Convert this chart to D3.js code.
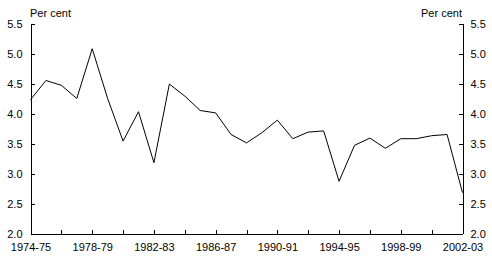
<!DOCTYPE html>
<html>
<head>
<meta charset="utf-8">
<script src="https://cdn.jsdelivr.net/npm/d3@7"></script>
<style>
  body { margin: 0; background: #fff; }
  svg text { font-family: "Liberation Sans", Arial, sans-serif; font-size: 11px; fill: #000; }
</style>
</head>
<body>
<script>
'use strict';

const years = ['1974-75','1975-76','1976-77','1977-78','1978-79','1979-80','1980-81','1981-82',
  '1982-83','1983-84','1984-85','1985-86','1986-87','1987-88','1988-89','1989-90','1990-91',
  '1991-92','1992-93','1993-94','1994-95','1995-96','1996-97','1997-98','1998-99','1999-00',
  '2000-01','2001-02','2002-03'];
const values = [4.23, 4.55, 4.47, 4.25, 5.08, 4.25, 3.54, 4.03, 3.18, 4.49, 4.29, 4.05, 4.01,
  3.65, 3.51, 3.68, 3.89, 3.58, 3.69, 3.71, 2.87, 3.47, 3.59, 3.42, 3.58, 3.58, 3.63, 3.65, 2.68];
const yTicks = [2.0, 2.5, 3.0, 3.5, 4.0, 4.5, 5.0, 5.5];
const unitLabel = 'Per cent';

(function() {
  const width = 492, height = 265;
  const left = 30.5, right = 462.5, top = 23.5, bottom = 233.5;

  const svg = d3.select('body').append('svg')
    .attr('width', width)
    .attr('height', height);

  const x = d3.scalePoint().domain(years).range([left, right]);
  const y = d3.scaleLinear().domain([2, 5.5]).range([bottom, top]);

  // x axis: ticks every two years, labels every four
  const xAxis = d3.axisBottom(x)
    .tickValues(years.filter((d, i) => i % 2 === 0))
    .tickFormat((d) => years.indexOf(d) % 4 === 0 ? d : '')
    .tickSizeInner(-4)
    .tickSizeOuter(0)
    .tickPadding(10);
  svg.append('g')
    .attr('transform', 'translate(0,' + bottom + ')')
    .call(xAxis);

  const yLeft = d3.axisLeft(y)
    .tickValues(yTicks)
    .tickFormat(d3.format('.1f'))
    .tickSizeInner(-4)
    .tickSizeOuter(0)
    .tickPadding(8);
  svg.append('g')
    .attr('transform', 'translate(' + left + ',0)')
    .call(yLeft);

  const yRight = d3.axisRight(y)
    .tickValues(yTicks)
    .tickFormat(d3.format('.1f'))
    .tickSizeInner(-4)
    .tickSizeOuter(0)
    .tickPadding(8);
  svg.append('g')
    .attr('transform', 'translate(' + right + ',0)')
    .call(yRight);

  svg.selectAll('.domain, .tick line')
    .attr('stroke', '#000')
    .attr('shape-rendering', 'crispEdges');
  svg.selectAll('.tick text').attr('font-size', '11px').attr('font-family', null);

  const line = d3.line()
    .x((d, i) => x(years[i]))
    .y((d) => y(d));

  svg.append('path')
    .datum(values)
    .attr('fill', 'none')
    .attr('stroke', '#000')
    .attr('stroke-width', 1)
    .attr('d', line);

  svg.append('text')
    .attr('x', 30)
    .attr('y', 17)
    .text(unitLabel);

  svg.append('text')
    .attr('x', 462)
    .attr('y', 17)
    .attr('text-anchor', 'end')
    .text(unitLabel);
})();
</script>
</body>
</html>
